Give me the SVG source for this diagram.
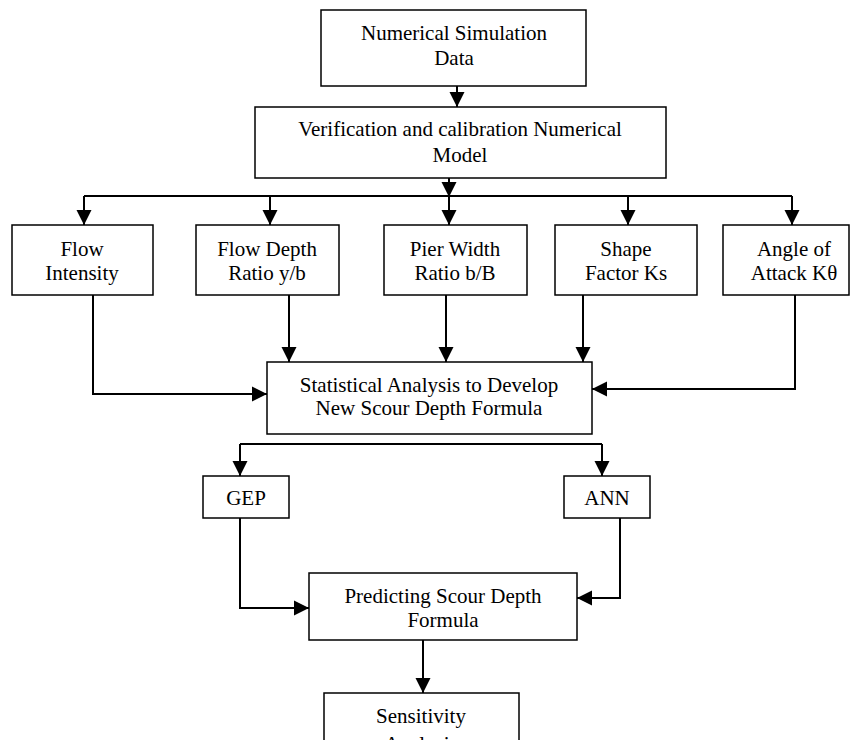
<svg xmlns="http://www.w3.org/2000/svg" width="854" height="740" viewBox="0 0 854 740">
<defs>
<marker id="ah" markerUnits="userSpaceOnUse" markerWidth="16" markerHeight="16" viewBox="0 0 15 16" refX="15" refY="8" orient="auto">
<path d="M0,0.5 L15,8 L0,15.5 Z" fill="#000"/>
</marker>
<style>
.box{fill:#fff;stroke:#000;stroke-width:1.5}
.t{font-family:"Liberation Serif","Times New Roman",serif;font-size:21px;fill:#000;text-anchor:middle}
.c{fill:none;stroke:#000;stroke-width:2}
.a{marker-end:url(#ah)}
</style>
</defs>
<rect width="854" height="740" fill="#fff"/>
<g id="connectors">
<path class="c a" d="M457,86 V107"/>
<path class="c a" d="M449,178 V197"/>
<path class="c" d="M84,196 H792"/>
<path class="c a" d="M84,196 V225"/>
<path class="c a" d="M270,196 V225"/>
<path class="c a" d="M449,196 V225"/>
<path class="c a" d="M628,196 V225"/>
<path class="c a" d="M792,196 V225"/>
<path class="c a" d="M93,295 V394 H267"/>
<path class="c a" d="M289,295 V362"/>
<path class="c a" d="M446,295 V362"/>
<path class="c a" d="M583,295 V362"/>
<path class="c a" d="M795,295 V389 H592"/>
<path class="c" d="M240,444 H602"/>
<path class="c a" d="M240,444 V476"/>
<path class="c a" d="M602,444 V476"/>
<path class="c a" d="M240,518 V608 H309"/>
<path class="c a" d="M620,518 V598 H577"/>
<path class="c a" d="M423,640 V693"/>
</g>
<g id="n-data">
<rect class="box" x="321" y="10" width="265" height="76"/>
<text class="t" x="454" y="40">Numerical Simulation</text>
<text class="t" x="454" y="65">Data</text>
</g>
<g id="n-verify">
<rect class="box" x="255" y="107" width="411" height="71"/>
<text class="t" x="460" y="136">Verification and calibration Numerical</text>
<text class="t" x="460" y="162">Model</text>
</g>
<g id="n-flow">
<rect class="box" x="12" y="225" width="141" height="70"/>
<text class="t" x="82" y="256">Flow</text>
<text class="t" x="82" y="280">Intensity</text>
</g>
<g id="n-depth">
<rect class="box" x="196" y="225" width="143" height="70"/>
<text class="t" x="267" y="256">Flow Depth</text>
<text class="t" x="267" y="280">Ratio y/b</text>
</g>
<g id="n-pier">
<rect class="box" x="384" y="225" width="143" height="70"/>
<text class="t" x="455" y="256">Pier Width</text>
<text class="t" x="455" y="280">Ratio b/B</text>
</g>
<g id="n-shape">
<rect class="box" x="555" y="225" width="142" height="70"/>
<text class="t" x="626" y="256">Shape</text>
<text class="t" x="626" y="280">Factor Ks</text>
</g>
<g id="n-angle">
<rect class="box" x="723" y="225" width="126" height="70"/>
<text class="t" x="794" y="256">Angle of</text>
<text class="t" x="794" y="280">Attack Kθ</text>
</g>
<g id="n-stat">
<rect class="box" x="267" y="362" width="325" height="72"/>
<text class="t" x="429" y="392">Statistical Analysis to Develop</text>
<text class="t" x="429" y="415">New Scour Depth Formula</text>
</g>
<g id="n-gep">
<rect class="box" x="203" y="476" width="86" height="42"/>
<text class="t" x="246" y="505">GEP</text>
</g>
<g id="n-ann">
<rect class="box" x="564" y="476" width="86" height="42"/>
<text class="t" x="607" y="505">ANN</text>
</g>
<g id="n-predict">
<rect class="box" x="309" y="573" width="268" height="67"/>
<text class="t" x="443" y="603">Predicting Scour Depth</text>
<text class="t" x="443" y="627">Formula</text>
</g>
<g id="n-sens">
<rect class="box" x="324" y="693" width="195" height="70"/>
<text class="t" x="421" y="723">Sensitivity</text>
<text class="t" x="421" y="751">Analysis</text>
</g>
</svg>
